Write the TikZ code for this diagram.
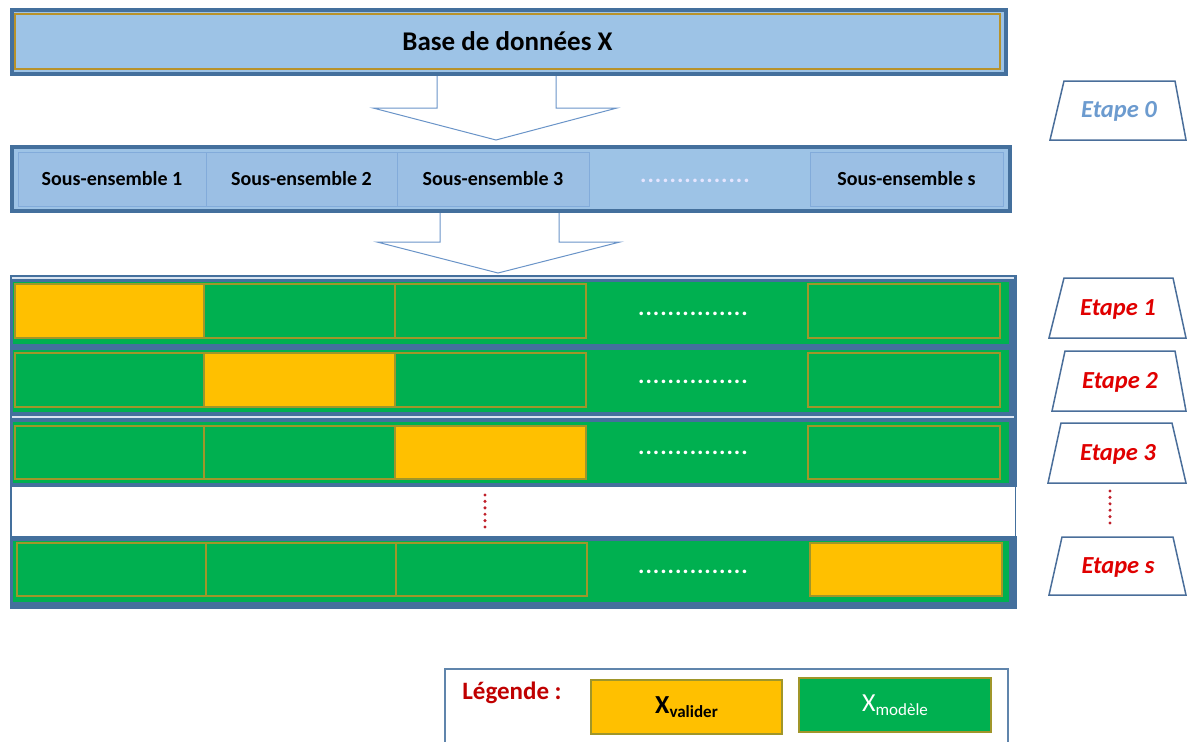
\documentclass[tikz,border=0pt]{standalone}
\usepackage{fontspec}
\setmainfont{Carlito}
\usetikzlibrary{calc}
\definecolor{bdark}{HTML}{44709D}
\definecolor{blight}{HTML}{9DC3E6}
\definecolor{bcell}{HTML}{9BBFE4}
\definecolor{bcellline}{HTML}{82ABDA}
\definecolor{gold}{HTML}{B8922A}
\definecolor{vert}{HTML}{00B050}
\definecolor{jaune}{HTML}{FFC000}
\definecolor{olive}{HTML}{A0962A}
\definecolor{rouge}{HTML}{E00000}
\definecolor{rougefonce}{HTML}{C00000}
\definecolor{etbleu}{HTML}{6C9BCF}
\definecolor{arrowblue}{HTML}{6A94C8}
\definecolor{lightline}{HTML}{D9E4F0}
\definecolor{trapline}{HTML}{4A6E9A}
\definecolor{dotred}{HTML}{C0202A}
\newcommand\mkrect[7]{\node[#2,anchor=north west,inner sep=0pt,outer sep=0pt,minimum width={(#5-#3)*1pt},minimum height={(#6-#4)*1pt}] (#1) at (#3,#4) {#7};}
\begin{document}
\begin{tikzpicture}[x=1pt,y=-1pt,
  outerbox/.style={draw=bdark,line width=4pt,fill=blight},
  goldbox/.style={draw=gold,line width=1.3pt},
  bcellst/.style={draw=bcellline,line width=1pt,fill=bcell,font=\fontsize{20}{24}\selectfont\bfseries},
  blockarrow/.style={draw=arrowblue,line width=1pt,fill=white,line join=miter},
  bluefill/.style={fill=bdark},
  band/.style={fill=vert},
  cellG/.style={draw=olive,line width=1.5pt,fill=vert},
  cellJ/.style={draw=olive,line width=1.5pt,fill=jaune},
  rowdots/.style={text=white,font=\fontsize{24}{24}\selectfont\bfseries\addfontfeature{LetterSpace=4}},
  etapebox/.style={draw=trapline,line width=1.5pt,fill=white},
  etapetxt/.style={font=\fontsize{24.5}{28}\selectfont\bfseries\itshape,text=rouge},
  reddots/.style={draw=dotred,line width=3.4pt,line cap=round,dash pattern=on 0pt off 6.4pt},
  legbox/.style={draw=bdark!85,line width=1.5pt,fill=white},
]
\useasboundingbox (0,0) rectangle (1187,742);

% block arrows (drawn first, boxes on top)
\coordinate (a1) at (509,74);
\draw[blockarrow] ([xshift=-72pt]a1) -- ++(0,34) -- ++(-64,0) -- ++(123,32) -- ++(121,-32) -- ++(-61,0) -- ([xshift=47pt]a1);
\coordinate (a2) at (511,211);
\draw[blockarrow] ([xshift=-71pt]a2) -- ++(0,31) -- ++(-63,0) -- ++(121,31) -- ++(122,-31) -- ++(-61,0) -- ([xshift=48pt]a2);

% top box
\mkrect{base}{outerbox}{12}{10}{1006}{74}{}
\mkrect{baseIn}{goldbox}{15}{14}{1000}{69}{\fontsize{27}{30}\selectfont\bfseries Base de données X}

% subsets box
\mkrect{sous}{outerbox}{12}{147}{1010}{211}{}
\mkrect{s1}{bcellst}{18}{152}{206}{206}{Sous-ensemble 1}
\mkrect{s2}{bcellst}{206}{152}{397}{206}{Sous-ensemble 2}
\mkrect{s3}{bcellst}{397}{152}{589}{206}{Sous-ensemble 3}
\mkrect{ss}{bcellst}{810}{152}{1003}{206}{Sous-ensemble s}
\node[rowdots,text=white!90!blue] (sdots) at (695,181) {...............};

% steps area
\mkrect{grid}{bluefill}{10}{275}{1017}{487}{}
\mkrect{lastrow}{bluefill}{10}{536}{1017}{609}{}
\draw[bdark,line width=1.5pt] (grid.south west) ++(1,0) -- ([xshift=1pt]lastrow.north west);
\draw[bdark,line width=1.5pt] (grid.south east) ++(-1.5,0) -- ([xshift=-1.5pt]lastrow.north east);
\draw[lightline,line width=1.2pt] (12,278) -- (1014,278);
\draw[lightline,line width=1.2pt] (12,417) -- (1014,417);

\mkrect{r1}{band}{13}{282}{1009}{344}{}
\mkrect{r2}{band}{13}{350}{1009}{412}{}
\mkrect{r3}{band}{13}{422}{1009}{483}{}
\mkrect{rs}{band}{13}{541}{1009}{602}{}

% row 1
\mkrect{c11}{cellJ}{15}{284}{204}{338}{}
\mkrect{c12}{cellG}{204}{284}{395}{338}{}
\mkrect{c13}{cellG}{395}{284}{586}{338}{}
\mkrect{c15}{cellG}{808}{284}{1000}{338}{}
% row 2
\mkrect{c21}{cellG}{15}{353}{204}{407}{}
\mkrect{c22}{cellJ}{204}{353}{395}{407}{}
\mkrect{c23}{cellG}{395}{353}{586}{407}{}
\mkrect{c25}{cellG}{808}{353}{1000}{407}{}
% row 3
\mkrect{c31}{cellG}{15}{426}{204}{479}{}
\mkrect{c32}{cellG}{204}{426}{395}{479}{}
\mkrect{c33}{cellJ}{395}{426}{586}{479}{}
\mkrect{c35}{cellG}{808}{426}{1000}{479}{}
% row s
\mkrect{cs1}{cellG}{17}{543}{206}{596}{}
\mkrect{cs2}{cellG}{206}{543}{396}{596}{}
\mkrect{cs3}{cellG}{396}{543}{587}{596}{}
\mkrect{cs5}{cellJ}{810}{543}{1002}{596}{}

\node[rowdots] (d1) at (693,314) {...............};
\node[rowdots] (d2) at (693,382) {...............};
\node[rowdots] (d3) at (693,453) {...............};
\node[rowdots] (ds) at (693,572) {...............};

\draw[reddots] (485,495) -- (485,528);

% step labels
\draw[etapebox] (1064,81) -- (1175,81) -- (1186,140) -- (1050,140) -- cycle;
\node[etapetxt,text=etbleu] (e0) at (1119,111) {Etape 0};
\draw[etapebox] (1064,278) -- (1173,278) -- (1186,338) -- (1049,338) -- cycle;
\node[etapetxt] (e1) at (1118,309) {Etape 1};
\draw[etapebox] (1065,351) -- (1175,351) -- (1186,411) -- (1052,411) -- cycle;
\node[etapetxt] (e2) at (1120,382) {Etape 2};
\draw[etapebox] (1061,423) -- (1172,423) -- (1186,483) -- (1048,483) -- cycle;
\node[etapetxt] (e3) at (1118,454) {Etape 3};
\draw[reddots] (1110,491) -- (1110,524);
\draw[etapebox] (1062,537) -- (1173,537) -- (1186,595) -- (1049,595) -- cycle;
\node[etapetxt] (es) at (1118,567) {Etape s};

% legend
\mkrect{leg}{legbox}{445}{669}{1008}{760}{}
\node[font=\fontsize{25}{28}\selectfont\bfseries,text=rougefonce] (legt) at (512,693) {Légende :};
\mkrect{lv}{cellJ}{591}{680}{782}{734}{\bfseries\fontsize{26}{26}\selectfont X\raisebox{-4pt}{\fontsize{17}{17}\selectfont valider}}
\mkrect{lm}{cellG}{799}{678}{991}{732}{\textcolor{white}{\fontsize{26}{26}\selectfont X\raisebox{-4pt}{\fontsize{17}{17}\selectfont modèle}}}
\end{tikzpicture}
\end{document}
